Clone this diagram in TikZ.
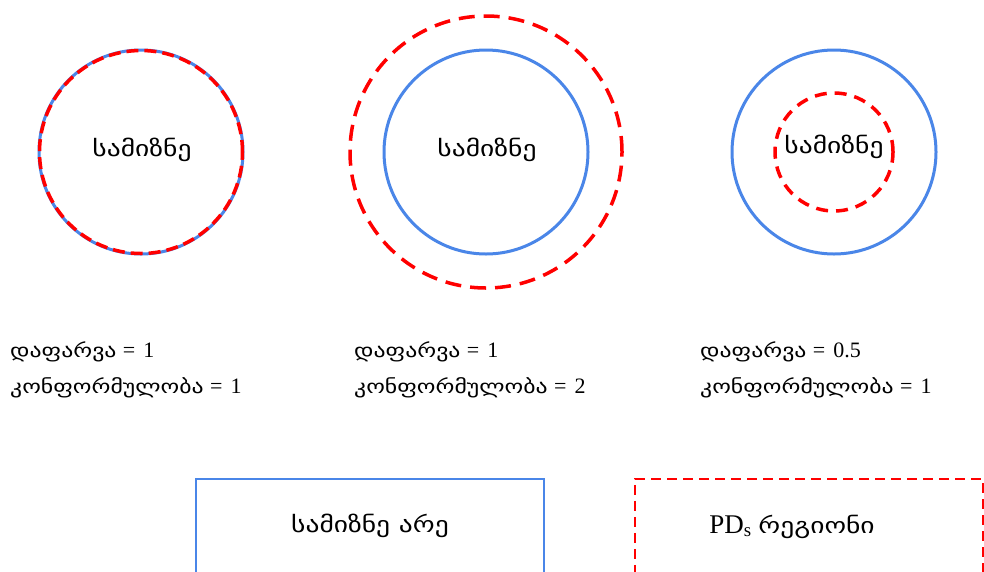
\documentclass[tikz,border=0pt]{standalone}
\usepackage{fontspec}
\setmainfont{Liberation Serif}
\newfontfamily\geo[FakeStretch=1.25]{DejaVu Sans}
\definecolor{tblue}{RGB}{74,134,232}
\definecolor{pdred}{RGB}{255,0,0}
\tikzset{
  target/.style={circle, draw=tblue, line width=3pt, minimum size=204pt, inner sep=0pt},
  ringlabel/.style={inner sep=0pt, font=\geo\fontsize{22}{26}\selectfont},
  pdring/.style={draw=pdred, line width=3.5pt},
  metric/.style={anchor=base west, inner sep=0pt, font=\fontsize{22}{24}\selectfont},
  legendbox/.style={line width=1.6pt, minimum width=348pt, minimum height=130pt, inner sep=0pt},
  legendtext/.style={anchor=base, font=\fontsize{27}{30}\selectfont, inner sep=0pt}
}
\newcommand{\ka}[1]{{\geo\fontsize{19}{24}\selectfont #1}}
\newcommand{\kabig}[1]{{\geo\fontsize{22}{26}\selectfont #1}}
\newcommand{\eqv}[1]{\hspace{6.5pt}=\hspace{8pt}#1}
\begin{document}
\begin{tikzpicture}[x=1pt,y=-1pt]
\useasboundingbox (0,0) rectangle (984,571);
\clip (0,0) rectangle (984,571);
\fill[white] (0,0) rectangle (984,571);

% coverage 1, conformity 1
\node[target] (t1) at (141,152) {};
\draw[pdring, dash pattern=on 12pt off 6pt] (t1.center) circle[radius=101.5pt];
\node[ringlabel] (t1l) at (142,150) {სამიზნე};

% coverage 1, conformity 2
\node[target] (t2) at (486,152) {};
\draw[pdring, dash pattern=on 16pt off 9pt] (t2.center) circle[radius=136pt];
\node[ringlabel] (t2l) at (487,150) {სამიზნე};

% coverage 0.5, conformity 1
\node[target] (t3) at (834,152) {};
\draw[pdring, dash pattern=on 12pt off 8pt] (t3.center) circle[radius=59pt];
\node[ringlabel] (t3l) at (834,147) {სამიზნე};

% metrics
\node[metric] (m1a) at (10,357) {\ka{დაფარვა}\eqv{1}};
\node[metric] (m1b) at (10,393) {\ka{კონფორმულობა}\eqv{1}};
\node[metric] (m2a) at (354,357) {\ka{დაფარვა}\eqv{1}};
\node[metric] (m2b) at (354,393) {\ka{კონფორმულობა}\eqv{2}};
\node[metric] (m3a) at (700,357) {\ka{დაფარვა}\eqv{0.5}};
\node[metric] (m3b) at (700,393) {\ka{კონფორმულობა}\eqv{1}};

% legend
\node[legendbox, draw=tblue, anchor=north west] (lb1) at (195,478) {};
\node[legendtext] (lt1) at (370,532) {\kabig{სამიზნე არე}};
\node[legendbox, draw=pdred, dash pattern=on 10pt off 6pt, anchor=north west] (lb2) at (634,478) {};
\node[legendtext] (lt2) at (792,533) {PD\textsubscript{s} \kabig{რეგიონი}};
\end{tikzpicture}
\end{document}
